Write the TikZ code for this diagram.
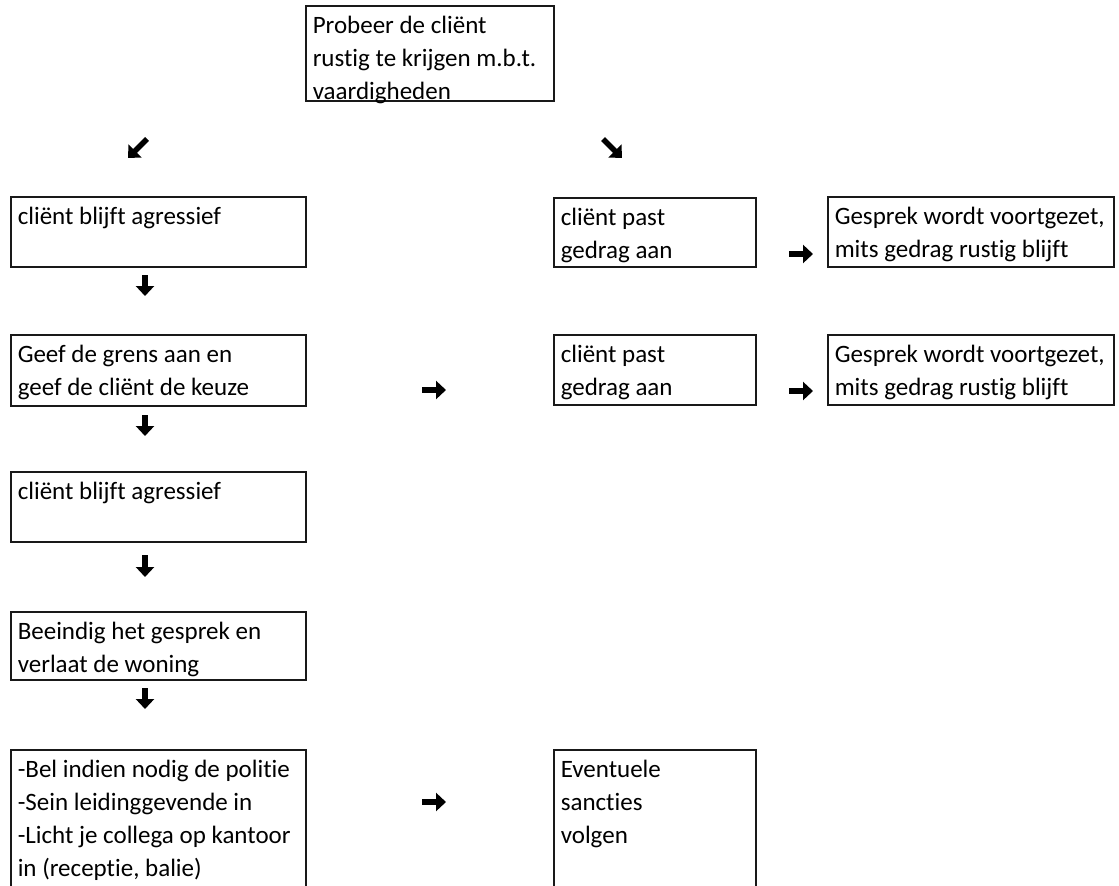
\documentclass[tikz,border=0pt]{standalone}
\usepackage{fontspec}
\setmainfont{Carlito}[Ligatures=NoCommon]
\usepackage{tikz}
\usetikzlibrary{arrows.meta}

% box contents: width, height, text
\newcommand{\cell}[3]{\parbox[t][#2][t]{#1}{\raggedright\strut #3}}

\begin{document}
\begin{tikzpicture}[x=1pt,y=-1pt,
    font=\fontsize{25}{33}\selectfont,
    stepbox/.style={draw=black!90, line width=1.5pt, anchor=north west,
      inner xsep=7pt, inner ysep=5pt},
    glyph/.style={line width=5.5pt, -{Triangle[length=10pt,width=18pt]}}]
  \useasboundingbox (0,0) rectangle (1119,886);

  % top
  \node[stepbox] (start) at (305,5)
    {\cell{234pt}{85pt}{Probeer de cliënt\\rustig te krijgen m.b.t.\\vaardigheden}};

  % left column
  \node[stepbox] (agr1) at (10,196)
    {\cell{281pt}{60pt}{cliënt blijft agressief}};
  \node[stepbox] (grens) at (10,334)
    {\cell{281pt}{61pt}{Geef de grens aan en\\geef de cliënt de keuze}};
  \node[stepbox] (agr2) at (10,471)
    {\cell{281pt}{60pt}{cliënt blijft agressief}};
  \node[stepbox] (stop) at (10,611)
    {\cell{281pt}{58pt}{Beeindig het gesprek en\\verlaat de woning}};
  \node[stepbox] (bel) at (10,749)
    {\cell{281pt}{140pt}{-Bel indien nodig de politie\\-Sein leidinggevende in\\-Licht je collega op kantoor\\in (receptie, balie)}};

  % middle and right columns
  \node[stepbox] (past1) at (553,197)
    {\cell{188pt}{59pt}{cliënt past\\gedrag aan}};
  \node[stepbox] (verder1) at (827,196)
    {\cell{272pt}{60pt}{Gesprek wordt voortgezet,\\mits gedrag rustig blijft}};
  \node[stepbox] (past2) at (553,334)
    {\cell{188pt}{60pt}{cliënt past\\gedrag aan}};
  \node[stepbox] (verder2) at (827,334)
    {\cell{272pt}{60pt}{Gesprek wordt voortgezet,\\mits gedrag rustig blijft}};
  \node[stepbox] (sanctie) at (553,749)
    {\cell{188pt}{140pt}{Eventuele\\sancties\\volgen}};

  % arrow glyphs
  \coordinate (dl1) at (147,139); \coordinate (dl2) at (128,158);
  \coordinate (dr1) at (603,139); \coordinate (dr2) at (622,158);
  \draw[glyph] (dl1) -- (dl2);
  \draw[glyph] (dr1) -- (dr2);

  \foreach \name/\ya/\yb in {a/275/296, b/415/436, c/555/577, d/688/709} {
    \coordinate (\name1) at (145,\ya);
    \coordinate (\name2) at (145,\yb);
    \draw[glyph] (\name1) -- (\name2);
  }

  \foreach \name/\xa/\xb/\y in {e/789/813/254, f/422/446/390, g/789/813/391, h/422/446/802} {
    \coordinate (\name1) at (\xa,\y);
    \coordinate (\name2) at (\xb,\y);
    \draw[glyph] (\name1) -- (\name2);
  }
\end{tikzpicture}
\end{document}
